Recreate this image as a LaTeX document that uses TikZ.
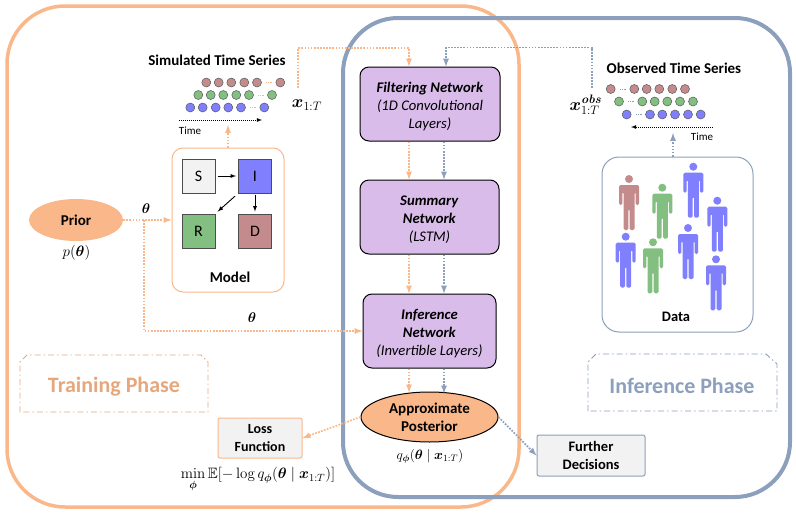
\documentclass[tikz,border=0pt]{standalone}
\usepackage{fix-cm}
\usepackage{amsmath,amssymb}
\usepackage{bm}
\usepackage[no-math]{fontspec}
\setmainfont{Carlito}
\usetikzlibrary{arrows,shapes,positioning}

\definecolor{trainorange}{HTML}{FAB88A}
\definecolor{inferblue}{HTML}{8C9FBD}
\definecolor{netpurple}{HTML}{D9BCEA}
\definecolor{sredd}{HTML}{C48B8C}
\definecolor{sgreen}{HTML}{82BF80}
\definecolor{sblue}{HTML}{8080FF}
\definecolor{boxgray}{HTML}{F2F2F2}
\definecolor{trainlabel}{HTML}{E5A87C}

\newcommand{\netstrut}{\rule{0pt}{15pt}}

\tikzset{
  flow/.style = {line width = 1.7pt, dash pattern = on 1.7pt off 1.4pt, -latex},
  trainflow/.style = {flow, draw = trainorange},
  inferflow/.style = {flow, draw = inferblue},
  timeflow/.style = {line width = 0.8pt, dash pattern = on 1pt off 1pt, -latex},
  netbox/.style = {rectangle, draw, fill = netpurple, rounded corners = 9pt,
    line width = 1pt, align = center, font = \fontsize{14.7}{18}\selectfont,
    inner sep = 0pt},
  stbox/.style = {rectangle, draw = black!70, line width = 1pt,
    minimum width = 33pt, minimum height = 34pt, inner sep = 0pt,
    font = \fontsize{16}{18}\selectfont},
  dot/.style = {circle, draw = black!65, line width = 0.5pt,
    minimum size = 9pt, inner sep = 0pt},
  title/.style = {font = \fontsize{15}{18}\bfseries\selectfont},
  gapmark/.style = {line width = 0.7pt, dash pattern = on 1pt off 0.8pt},
  person/.pic = {
    \fill[pic actions] (0,0) circle (4pt);
    \fill[pic actions, rounded corners = 1.5pt]
      (-10,26) -- (-10,6) -- (10,6) -- (10,26) -- (6.6,26) -- (6.6,13) -- (5.5,13)
      -- (5.5,51) -- (0.7,51) -- (0.7,30) -- (-0.7,30) -- (-0.7,51) -- (-5.5,51)
      -- (-5.5,13) -- (-6.6,13) -- (-6.6,26) -- cycle;
  }
}

\begin{document}
\begin{tikzpicture}[x = 1pt, y = -1pt]
  \useasboundingbox (0,0) rectangle (796,514);

  \draw[trainorange, line width = 3.5pt, rounded corners = 58pt] (7,6) rectangle (519,507);
  \draw[inferblue, line width = 4pt, rounded corners = 55pt] (343,18) rectangle (790,497);

  % phase frames
  \draw[trainlabel, line width = 0.9pt, dash pattern = on 6pt off 3pt on 1.5pt off 3pt]
    (20,412) -- (20,362) -- (27,355) -- (201,355) -- (208,362) -- (208,412) -- cycle;
  \node[font = \fontsize{22}{26}\bfseries\selectfont, text = trainlabel] (trainphase) at (114,387) {Training Phase};
  \draw[inferblue, line width = 0.9pt, dash pattern = on 6pt off 3pt on 1.5pt off 3pt]
    (588,411) -- (588,362) -- (596,354) -- (766,354) -- (777,364) -- (777,411) -- cycle;
  \node[font = \fontsize{22}{26}\bfseries\selectfont, text = inferblue] (inferphase) at (682,386) {Inference Phase};

  % networks
  \node[netbox, minimum width = 140pt, minimum height = 74pt] (filter) at (430,104) {%
    \netstrut\textbf{\textit{Filtering Network}}\\ \textit{(1D Convolutional}\\ \textit{Layers)}};
  \node[netbox, minimum width = 139pt, minimum height = 74pt] (summary) at (429.5,217) {%
    \netstrut\textbf{\textit{Summary}}\\ \textbf{\textit{Network}}\\ \textit{(LSTM)}};
  \node[netbox, minimum width = 133pt, minimum height = 74pt] (inference) at (429.5,331) {%
    \netstrut\textbf{\textit{Inference}}\\ \textbf{\textit{Network}}\\ \textit{(Invertible Layers)}};
  \node[ellipse, draw, fill = trainorange, line width = 1pt, inner sep = 0pt,
    minimum width = 137pt, minimum height = 50pt, align = center,
    font = \fontsize{15}{18}\bfseries\selectfont] (posterior) at (429.5,417) {Approximate\\ Posterior};
  \node[font = \fontsize{13.5}{15}\selectfont] (qlabel) at (430,456) {$q_{\bm{\phi}}(\bm{\theta} \mid \bm{x}_{1:T})$};

  \coordinate (trainline) at (409,0);
  \coordinate (inferline) at (444,0);
  \draw[trainflow] (filter.south -| trainline) -- (summary.north -| trainline);
  \draw[trainflow] (summary.south -| trainline) -- (inference.north -| trainline);
  \draw[trainflow] (inference.south -| trainline) -- (409,392.5);
  \draw[inferflow] (filter.south -| inferline) -- (summary.north -| inferline);
  \draw[inferflow] (summary.south -| inferline) -- (inference.north -| inferline);
  \draw[inferflow] (inference.south -| inferline) -- (444,393.5);

  % prior and model
  \node[ellipse, fill = trainorange, minimum width = 94pt, minimum height = 42pt,
    inner sep = 0pt, font = \fontsize{15}{18}\bfseries\selectfont] (prior) at (76,220) {Prior};
  \node[font = \fontsize{15}{17}\selectfont] (plabel) at (76.5,253) {$p(\bm{\theta})$};
  \node[rectangle, draw = trainorange, line width = 1pt, rounded corners = 11pt,
    minimum width = 112pt, minimum height = 144pt] (model) at (228,220) {};
  \node[stbox, fill = boxgray] (s) at (198.5,176) {S};
  \node[stbox, fill = sblue] (i) at (255,176) {I};
  \node[stbox, fill = sgreen] (r) at (198.5,231) {R};
  \node[stbox, fill = sredd] (d) at (255,231) {D};
  \node[font = \fontsize{15}{18}\bfseries\selectfont] (modellabel) at (230,277) {Model};
  \draw[line width = 0.9pt, -latex, shorten <= 2pt, shorten >= 2pt] (s) -- (i);
  \draw[line width = 0.9pt, -latex, shorten <= 4pt, shorten >= 3pt] (i.south west) -- (r.north east);
  \draw[line width = 0.9pt, -latex, shorten <= 1pt, shorten >= 2pt] (i.south) -- (d.north);

  \coordinate (branch) at (144,220);
  \draw[trainflow] (prior.east) -- (model.west);
  \draw[trainflow] (branch) |- (inference.west);
  \node[font = \fontsize{14}{16}\selectfont] (thetaone) at (146,209) {$\bm{\theta}$};
  \node[font = \fontsize{14}{16}\selectfont] (thetatwo) at (252,318) {$\bm{\theta}$};

  % simulated series
  \node[title] (simtitle) at (217,60) {Simulated Time Series};
  \foreach \px [count = \i] in {206.3,218.7,231.3,244.3,257,280.3}
    \node[dot, fill = sredd] (simr\i) at (\px,82.5) {};
  \foreach \px [count = \i] in {198.3,210.7,223.3,236.3,249,272}
    \node[dot, fill = sgreen] (simg\i) at (\px,95) {};
  \foreach \px [count = \i] in {190.3,202.7,215.7,228.3,241,264.3}
    \node[dot, fill = sblue] (simb\i) at (\px,107.5) {};
  \draw[gapmark, trainorange] (266,82.5) -- (272,82.5);
  \draw[gapmark, trainorange] (258,95) -- (264,95);
  \draw[gapmark, trainorange] (250,107.5) -- (256,107.5);
  \coordinate (simstart) at (179,120);
  \coordinate (simend) at (262,120);
  \draw[timeflow] (simstart) -- (simend);
  \node[font = \fontsize{11}{13}\selectfont] (simtime) at (190,130.5) {Time};
  \coordinate (simup) at (228,125);
  \draw[trainflow] (model.north) -- (simup);
  \node[font = \fontsize{17.5}{20}\selectfont] (xsim) at (307,105) {$\bm{x}_{1:T}$};

  % observed series
  \node[title] (obstitle) at (674,68) {Observed Time Series};
  \foreach \px [count = \i] in {610.7,634.3,646.7,659.3,672.3,685}
    \node[dot, fill = sredd] (obsr\i) at (\px,89) {};
  \foreach \px [count = \i] in {619,642.3,654.7,667.3,680,693}
    \node[dot, fill = sgreen] (obsg\i) at (\px,101.5) {};
  \foreach \px [count = \i] in {626.7,650,662.3,675,688,700.7}
    \node[dot, fill = sblue] (obsb\i) at (\px,114.5) {};
  \draw[gapmark, inferblue] (620,89) -- (626,89);
  \draw[gapmark, inferblue] (628,101.5) -- (634,101.5);
  \draw[gapmark, inferblue] (636,114.5) -- (642,114.5);
  \coordinate (obsstart) at (713,127);
  \coordinate (obsend) at (631,127);
  \draw[timeflow] (obsstart) -- (obsend);
  \node[font = \fontsize{11}{13}\selectfont] (obstime) at (702,137) {Time};
  \node[font = \fontsize{17.5}{20}\selectfont] (xobs) at (586,105) {$\bm{x}_{1:T}^{\bm{\mathit{obs}}}$};

  % data panel
  \node[rectangle, draw = inferblue, line width = 1pt, rounded corners = 17pt,
    minimum width = 151pt, minimum height = 175pt] (data) at (677.5,244.5) {};
  \pic[fill = sredd] at (629,179) {person};
  \pic[fill = sgreen] at (662.3,187.7) {person};
  \pic[fill = sblue] at (693.3,166.7) {person};
  \pic[fill = sblue] at (717.3,200.7) {person};
  \pic[fill = sblue] at (688,228) {person};
  \pic[fill = sblue] at (625.7,236.7) {person};
  \pic[fill = sgreen] at (653,242.3) {person};
  \pic[fill = sblue] at (716,259.3) {person};
  \node[font = \fontsize{14.5}{17}\bfseries\selectfont] (datalabel) at (676,317) {Data};
  \coordinate (obsup) at (673,133);
  \draw[inferflow] (data.north -| obsup) -- (obsup);

  % feeds into the filtering network
  \coordinate (simfeed) at (298,88);
  \coordinate (simtop) at (409,48);
  \draw[trainflow] (simfeed) |- (simtop) -- (filter.north -| simtop);
  \coordinate (obsfeed) at (592,88);
  \coordinate (obstop) at (446,47.5);
  \draw[inferflow] (obsfeed) |- (obstop) -- (filter.north -| obstop);

  % outputs of the posterior
  \node[rectangle, draw = trainorange, fill = boxgray, line width = 1pt, rounded corners = 2pt,
    minimum width = 84pt, minimum height = 40pt, inner sep = 0pt, align = center,
    font = \fontsize{14}{18}\bfseries\selectfont] (loss) at (260,438) {Loss\\ Function};
  \node[rectangle, draw = inferblue, fill = boxgray, line width = 1pt, rounded corners = 2pt,
    minimum width = 108pt, minimum height = 41pt, inner sep = 0pt, align = center,
    font = \fontsize{14.5}{18}\bfseries\selectfont] (further) at (591,455.5) {Further\\ Decisions};
  \draw[trainflow] (posterior.west) -- (loss.east);
  \draw[inferflow] (posterior.east) -- (further.west);
  \node[font = \fontsize{15}{17}\selectfont] (losslabel) at (258,480)
    {$\min\limits_{\bm{\phi}} \mathbb{E}[-\log q_{\bm{\phi}}(\bm{\theta} \mid \bm{x}_{1:T})]$};
\end{tikzpicture}
\end{document}
